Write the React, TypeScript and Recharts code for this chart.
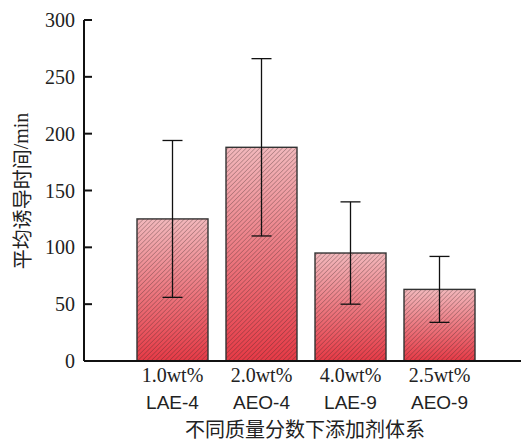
import { BarChart, Bar, XAxis, YAxis, ErrorBar } from "recharts";

// bar categories (two lines per label) and values
const concentrations = ["1.0wt%", "2.0wt%", "4.0wt%", "2.5wt%"];
const additives = ["LAE-4", "AEO-4", "LAE-9", "AEO-9"];
const meanInduction = [125, 188, 95, 63];
const errors = [69, 78, 45, 29];
const yTicks = [0, 50, 100, 150, 200, 250, 300];

const data = additives.map((name, i) => ({
  name,
  conc: concentrations[i],
  value: meanInduction[i],
  err: errors[i],
}));

const SERIF = "'Liberation Serif', 'Times New Roman', serif";
const SANS = "'Liberation Sans', Arial, sans-serif";
const CJK = "'Noto Sans CJK SC', sans-serif";

const AXIS_X = 84;
const AXIS_Y = 361;

// hatched, gradient-filled bar
const HatchBar = (props: any) => {
  const { x, y, width, height } = props;
  if (!height || height <= 0) return null;
  return (
    <g>
      <rect x={x} y={y} width={width} height={height} fill="url(#barGrad)" />
      <rect x={x} y={y} width={width} height={height} fill="url(#hatch)" />
      <rect
        x={x}
        y={y}
        width={width}
        height={height}
        fill="none"
        stroke="#333"
        strokeWidth={1.4}
      />
    </g>
  );
};

// y tick labels with inward stubs
const renderYTick = (props: any) => {
  const { y, payload } = props;
  return (
    <g key={`yt-${payload.value}`}>
      <path d={`M${AXIS_X},${y}h8`} stroke="#111" strokeWidth={2} fill="none" />
      <text
        x={AXIS_X - 9}
        y={y}
        textAnchor="end"
        dominantBaseline="central"
        fontFamily={SERIF}
        fontSize={20}
        fill="#222"
      >
        {payload.value}
      </text>
    </g>
  );
};

const renderXTick = (props: any) => {
  const { x, payload, index } = props;
  return (
    <g key={`xt-${index}`}>
      <text
        x={x}
        y={AXIS_Y + 21}
        textAnchor="middle"
        fontFamily={SERIF}
        fontSize={20}
        fill="#222"
      >
        {concentrations[index]}
      </text>
      <text
        x={x}
        y={AXIS_Y + 48}
        textAnchor="middle"
        fontFamily={SANS}
        fontSize={19}
        fill="#222"
      >
        {payload.value}
      </text>
    </g>
  );
};

export default function App() {
  return (
    <div style={{ position: "absolute", left: 0, top: 0, background: "#fff" }}>
      <BarChart
        width={521}
        height={442}
        data={data}
        margin={{ top: 20, right: 0, bottom: 0, left: 0 }}
        barSize={71}
      >
        <defs>
          <linearGradient id="barGrad" x1="0" y1="0" x2="0" y2="1">
            <stop offset="0%" stopColor="#f2b8bc" />
            <stop offset="100%" stopColor="#e63a46" />
          </linearGradient>
          <pattern
            id="hatch"
            patternUnits="userSpaceOnUse"
            width={3.2}
            height={3.2}
            patternTransform="rotate(45)"
          >
            <line x1={0} y1={0} x2={0} y2={3.2} stroke="#3a2424" strokeWidth={1} strokeOpacity={0.55} />
          </pattern>
        </defs>
        <XAxis
          dataKey="name"
          height={81}
          axisLine={{ stroke: "#111", strokeWidth: 2 }}
          tickLine={false}
          tick={renderXTick}
          interval={0}
          padding={{ left: 44, right: 37 }}
        />
        <YAxis
          width={84}
          domain={[0, 300]}
          ticks={yTicks}
          axisLine={{ stroke: "#111", strokeWidth: 2 }}
          tickLine={false}
          tick={renderYTick}
          interval={0}
        />
        <Bar dataKey="value" shape={<HatchBar />} isAnimationActive={false}>
          <ErrorBar dataKey="err" width={10} stroke="#111" strokeWidth={1.3} />
        </Bar>
        <text
          transform="translate(21,191) rotate(-90)"
          textAnchor="middle"
          dominantBaseline="central"
          fill="#222"
          fontSize={20}
        >
          <tspan fontFamily={CJK}>平均诱导时间</tspan>
          <tspan fontFamily={SERIF}>/min</tspan>
        </text>
        <text
          x={305}
          y={437}
          textAnchor="middle"
          fill="#222"
          fontFamily={CJK}
          fontSize={20}
        >
          不同质量分数下添加剂体系
        </text>
      </BarChart>
    </div>
  );
}
